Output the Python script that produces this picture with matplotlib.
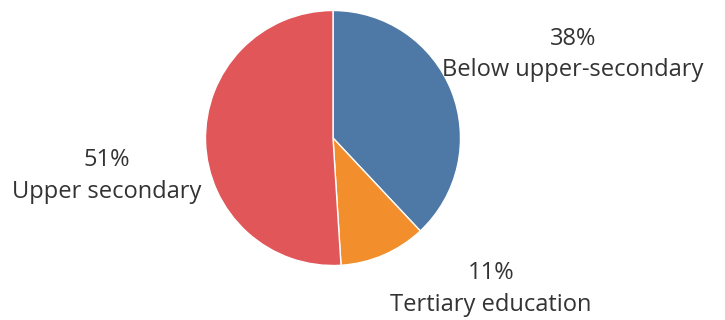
import matplotlib
matplotlib.use("Agg")
import matplotlib.pyplot as plt

categories = ["Below upper-secondary", "Tertiary education", "Upper secondary"]
values = [38, 11, 51]
colors = ["#4e79a7", "#f28e2b", "#e15759"]
pct_labels = ["38%", "11%", "51%"]

W, H = 725, 320
fig = plt.figure(figsize=(W / 100, H / 100), dpi=100)
ax = fig.add_axes([0, 0, 1, 1])

cx, cy, r = 333, 138, 127.5
# pie in flipped-y axes: counterclock=True with inverted y appears clockwise
ax.pie(values, colors=colors, startangle=-90, counterclock=True,
       center=(cx, cy), radius=r, frame=True,
       wedgeprops=dict(edgecolor="white", linewidth=1))
ax.set_xlim(0, W)
ax.set_ylim(H, 0)
ax.set_aspect("equal")
ax.axis("off")

label_pos = {
    "Below upper-secondary": (573, 39, 70),
    "Tertiary education": (491, 273, 305),
    "Upper secondary": (107, 160, 192),
}
font = dict(family=["Open Sans", "DejaVu Sans"], fontsize=17, color="#333333",
            ha="center", va="center")
for cat, pct in zip(categories, pct_labels):
    x, y1, y2 = label_pos[cat]
    ax.text(x, y1, pct, **font)
    ax.text(x, y2, cat, **font)

fig.savefig("out.png", dpi=100)
